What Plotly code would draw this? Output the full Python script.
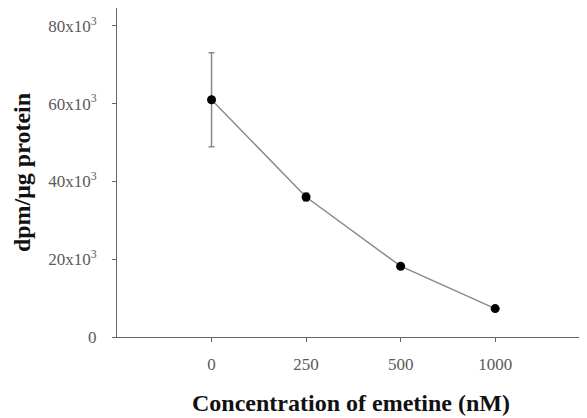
import plotly.graph_objects as go

categories = ["0", "250", "500", "1000"]
values = [61000, 36000, 18200, 7300]
errors = [12100, 1000, 500, 400]
ytick_vals = [0, 20000, 40000, 60000, 80000]
ytick_text = ["0", "20x10<sup>3</sup>", "40x10<sup>3</sup>", "60x10<sup>3</sup>", "80x10<sup>3</sup>"]

xpos = list(range(1, len(categories) + 1))

fig = go.Figure()
fig.add_trace(go.Scatter(
    x=xpos, y=values,
    mode="lines+markers",
    line=dict(color="#8a8a8a", width=1.5),
    marker=dict(color="black", size=9),
    error_y=dict(type="data", array=errors, visible=True, color="#8a8a8a", thickness=1.5, width=3),
    showlegend=False,
))

fig.update_layout(
    width=579, height=410,
    margin=dict(l=109, r=2, t=0, b=81),
    paper_bgcolor="white", plot_bgcolor="white",
    font=dict(family="Liberation Serif", color="#5a5a5a", size=17),
    xaxis=dict(
        range=[0, 4.95], tickmode="array", tickvals=xpos, ticktext=categories,
        showline=True, linecolor="#666666", linewidth=1, showgrid=False, zeroline=False,
        ticks="outside", ticklen=4, tickcolor="#666666", ticklabelstandoff=8,
        title=dict(text="<b>Concentration of emetine (nM)</b>", font=dict(size=24, color="#111111"), standoff=20),
        tickfont=dict(size=17, color="#5a5a5a"),
    ),
    yaxis=dict(
        range=[0, 84600], tickmode="array", tickvals=ytick_vals, ticktext=ytick_text,
        showline=True, linecolor="#666666", linewidth=1, showgrid=False, zeroline=False,
        ticks="outside", ticklen=4, tickcolor="#666666", ticklabelstandoff=12,
        title=dict(text="<b>dpm/μg protein</b>", font=dict(size=24, color="#111111"), standoff=10),
        tickfont=dict(size=17, color="#5a5a5a"),
    ),
)

fig.write_html("out.html")
